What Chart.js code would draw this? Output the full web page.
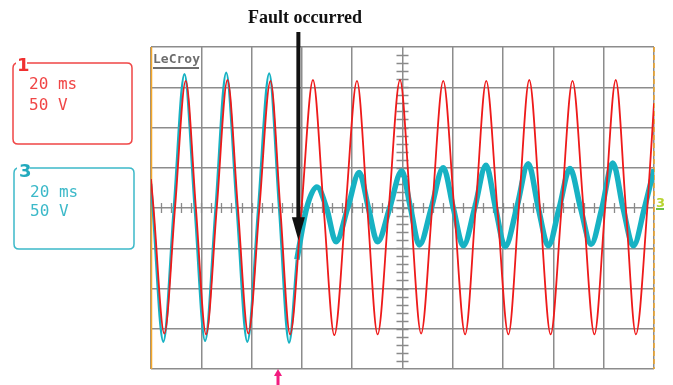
<!DOCTYPE html>
<html>
<head>
<meta charset="utf-8">
<script src="https://cdn.jsdelivr.net/npm/chart.js@4.4.1/dist/chart.umd.min.js"></script>
<style>
  body { margin: 0; background: #fff; width: 673px; height: 385px; overflow: hidden; }
  #scope { display: block; }
</style>
</head>
<body>
<canvas id="scope" width="673" height="385"></canvas>
<script>
// channel 1 (red): time in ms, voltage in V (20 ms/div, 50 V/div)
const redTime = [0, 1.0, 5.3, 9.55, 13.8, 17.85, 21.9, 26.15, 30.4, 34.55, 38.7, 43.1, 47.5, 51.4, 55.3,
  59.85, 64.4, 68.65, 72.9, 77.4, 81.9, 86.0, 90.1, 94.55, 99.0, 103.2, 107.4, 111.8, 116.2, 120.55,
  124.9, 129.1, 133.3, 137.7, 142.1, 146.25, 150.4, 154.65, 158.9, 163.25, 167.6, 171.95, 176.3,
  180.55, 184.8, 188.8, 192.8, 197.35, 200];
const redVolt = [36, 0, -156, 0, 158, 0, -157, 0, 159, 0, -156, 0, 158, 0, -157,
  0, 159, 0, -158, 0, 158, 0, -157, 0, 159, 0, -156, 0, 158, 0,
  -157, 0, 158, 0, -157, 0, 159, 0, -157, 0, 158, 0, -157,
  0, 159, 0, -157, 0, 130];

// channel 3 (cyan) before the fault, follows channel 1
const cyanTime = [0, 0.7, 4.9, 9.1, 13.3, 17.4, 21.5, 25.7, 29.9, 34.1, 38.3, 42.65, 47.0, 50.95, 54.9, 58.0];
const cyanVolt = [30, 0, -166, 0, 166, 0, -165, 0, 168, 0, -166, 0, 167, 0, -167, -64];

// channel 3 after the fault, reduced and noisy
const faultTime = [58.0, 61.9, 66.0, 69.8, 73.6, 78.2, 82.8, 86.45, 90.1, 94.9, 99.7, 103.2, 106.7,
  111.45, 116.2, 120.2, 124.2, 128.7, 133.2, 137.0, 140.8, 145.4, 150.0, 154.0, 158.0, 162.3,
  166.6, 170.8, 175.0, 179.3, 183.6, 187.7, 191.8, 196.2, 200];
const faultVolt = [-64, 0, 26, 0, -42, 0, 44, 0, -42, 0, 46, 0, -46,
  0, 50, 0, -47, 0, 53, 0, -48, 0, 55, 0, -47, 0,
  49, 0, -45, 0, 56, 0, -47, 0, 48];

const faultAt = 58.6;     // ms, where the arrow points
const faultTip = -40;     // V
const triggerAt = 50.5;   // ms, trigger marker under the screen

const RED = "#ee1a1a";
const CYAN = "#17b2c3";

function pts(xs, ys) {
  return xs.map((x, i) => ({ x: x, y: ys[i] }));
}

function roundBox(ctx, x, y, w, h, r) {
  ctx.beginPath();
  ctx.moveTo(x + r, y);
  ctx.lineTo(x + w - r, y);
  ctx.quadraticCurveTo(x + w, y, x + w, y + r);
  ctx.lineTo(x + w, y + h - r);
  ctx.quadraticCurveTo(x + w, y + h, x + w - r, y + h);
  ctx.lineTo(x + r, y + h);
  ctx.quadraticCurveTo(x, y + h, x, y + h - r);
  ctx.lineTo(x, y + r);
  ctx.quadraticCurveTo(x, y, x + r, y);
  ctx.stroke();
}

// scope furniture: centre axis ticks, edges, labels and arrows
const scopeDecor = {
  id: "scopeDecor",
  beforeDatasetsDraw(chart) {
    const ctx = chart.ctx;
    const a = chart.chartArea;
    const xs = chart.scales.x, ys = chart.scales.y;
    const cx = xs.getPixelForValue(100), cy = ys.getPixelForValue(0);
    ctx.save();
    ctx.strokeStyle = "#8a8a8a";
    ctx.lineWidth = 1.3;
    ctx.beginPath();
    for (let t = 4; t < 200; t += 4) {
      const px = Math.round(xs.getPixelForValue(t)) + 0.5;
      ctx.moveTo(px, cy - 5);
      ctx.lineTo(px, cy + 5);
    }
    for (let v = -190; v < 200; v += 10) {
      const py = Math.round(ys.getPixelForValue(v)) + 0.5;
      ctx.moveTo(cx - 6, py);
      ctx.lineTo(cx + 6, py);
    }
    ctx.stroke();
    // left edge orange, right edge dashed orange
    ctx.strokeStyle = "#f4a629";
    ctx.lineWidth = 1.5;
    ctx.beginPath();
    ctx.moveTo(a.left + 0.5, a.top);
    ctx.lineTo(a.left + 0.5, a.bottom);
    ctx.stroke();
    ctx.setLineDash([5, 3]);
    ctx.beginPath();
    ctx.moveTo(a.right, a.top);
    ctx.lineTo(a.right, a.bottom);
    ctx.stroke();
    ctx.setLineDash([]);
    // LeCroy badge
    ctx.fillStyle = "#6e6e6e";
    ctx.font = "bold 13px 'DejaVu Sans Mono'";
    ctx.textBaseline = "alphabetic";
    ctx.fillText("LeCroy", a.left + 2, 63);
    ctx.fillRect(a.left + 2, 67, 46, 2);
    ctx.restore();
  },
  afterDraw(chart) {
    const ctx = chart.ctx;
    const xs = chart.scales.x, ys = chart.scales.y;
    ctx.save();
    ctx.textBaseline = "alphabetic";

    // channel boxes
    ctx.lineWidth = 1.5;
    ctx.strokeStyle = "#f04646";
    roundBox(ctx, 13, 63, 119, 81, 5);
    ctx.strokeStyle = "#3cb9c9";
    roundBox(ctx, 14, 168, 120, 81, 5);
    ctx.fillStyle = "#fff";
    ctx.fillRect(16, 55, 11, 12);
    ctx.fillRect(17, 160, 13, 12);

    ctx.font = "bold 18px 'DejaVu Sans'";
    ctx.fillStyle = "#f03030";
    ctx.fillText("1", 17, 71);
    ctx.fillStyle = "#22aabd";
    ctx.fillText("3", 19, 177);

    ctx.font = "16px 'DejaVu Sans Mono'";
    ctx.fillStyle = "#f04646";
    ctx.fillText("20 ms", 29, 89);
    ctx.fillText("50 V", 29, 110);
    ctx.fillStyle = "#3cb9c9";
    ctx.fillText("20 ms", 30, 197);
    ctx.fillText("50 V", 30, 216);

    // channel 3 marker on the right
    ctx.font = "bold 13px 'DejaVu Sans'";
    ctx.fillStyle = "#b8d430";
    ctx.fillText("3", 656, 207);
    ctx.fillStyle = "#6cc24a";
    ctx.fillRect(656, 208, 8, 2);

    // fault annotation
    ctx.fillStyle = "#111";
    ctx.font = "bold 18px 'Liberation Serif'";
    ctx.textAlign = "center";
    ctx.fillText("Fault occurred", 305, 23);
    const fx = xs.getPixelForValue(faultAt);
    const fy = ys.getPixelForValue(faultTip);
    ctx.fillRect(fx - 2, 32, 4, fy - 32 - 20);
    ctx.beginPath();
    ctx.moveTo(fx - 6.5, fy - 23);
    ctx.lineTo(fx + 6.5, fy - 23);
    ctx.lineTo(fx, fy);
    ctx.closePath();
    ctx.fill();

    // trigger marker
    const tx = xs.getPixelForValue(triggerAt);
    ctx.fillStyle = "#f21b7f";
    ctx.fillRect(tx - 1.5, 375, 3, 10);
    ctx.beginPath();
    ctx.moveTo(tx - 4, 376);
    ctx.lineTo(tx + 4, 376);
    ctx.lineTo(tx, 369);
    ctx.closePath();
    ctx.fill();
    ctx.restore();
  }
};

const gridStyle = { color: "#8c8c8c", lineWidth: 1.5, drawTicks: false };

new Chart(document.getElementById("scope").getContext("2d"), {
  type: "line",
  data: {
    datasets: [
      {
        label: "1",
        data: pts(redTime, redVolt),
        borderColor: RED,
        borderWidth: 1.8,
        order: 0
      },
      {
        label: "3",
        data: pts(cyanTime, cyanVolt),
        borderColor: CYAN,
        borderWidth: 2.5,
        order: 1
      },
      {
        label: "3 after fault",
        data: pts(faultTime, faultVolt),
        borderColor: CYAN,
        borderWidth: 5.5,
        order: 2
      }
    ]
  },
  options: {
    responsive: false,
    animation: false,
    events: [],
    layout: { padding: { left: 151, top: 47, right: 19, bottom: 16 } },
    elements: {
      point: { radius: 0 },
      line: { cubicInterpolationMode: "monotone", borderJoinStyle: "round" }
    },
    plugins: { legend: { display: false }, tooltip: { enabled: false } },
    scales: {
      x: {
        type: "linear", min: 0, max: 200,
        ticks: { display: false, stepSize: 20 },
        grid: gridStyle,
        border: { display: false }
      },
      y: {
        type: "linear", min: -200, max: 200,
        ticks: { display: false, stepSize: 50 },
        grid: gridStyle,
        border: { display: false }
      }
    }
  },
  plugins: [scopeDecor]
});
</script>
</body>
</html>
